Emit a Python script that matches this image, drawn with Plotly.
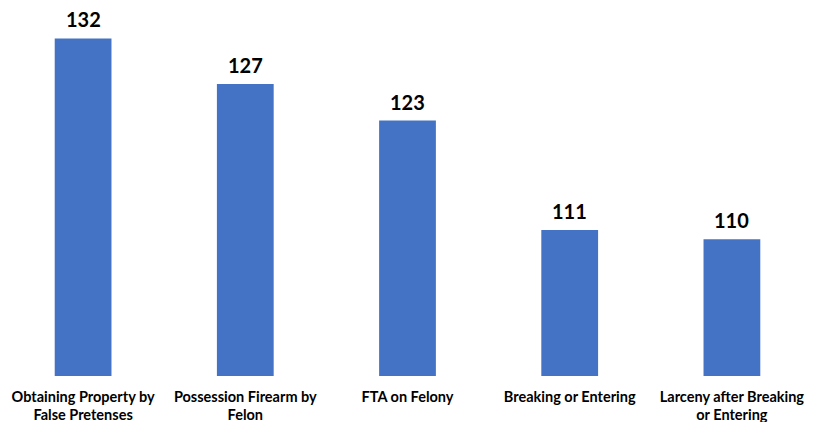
import plotly.graph_objects as go

categories = [
    "Obtaining Property by<br>False Pretenses",
    "Possession Firearm by<br>Felon",
    "FTA on Felony",
    "Breaking or Entering",
    "Larceny after Breaking<br>or Entering",
]
values = [132, 127, 123, 111, 110]

fig = go.Figure()
fig.add_trace(go.Bar(
    x=categories, y=values,
    marker=dict(color="#4472C4", line=dict(width=0)),
    width=0.35,
))
for c, v in zip(categories, values):
    fig.add_annotation(
        x=c, y=v, text=f"<b>{v}</b>", showarrow=False,
        yanchor="bottom", yshift=5,
        font=dict(family="Lato", size=20, color="#000000"),
    )

fig.update_layout(
    width=821, height=422,
    margin=dict(l=1.5, r=7.5, t=10.5, b=46),
    paper_bgcolor="white", plot_bgcolor="white",
    showlegend=False,
    bargap=0.65,
)
fig.update_xaxes(
    showgrid=False, showline=False, zeroline=False,
    tickfont=dict(family="Lato", size=14.5, color="#000000", weight="bold"),
    ticks="", tickangle=0, automargin=False, ticklabelstandoff=10,
)
fig.update_yaxes(
    range=[95, 135], visible=False, showgrid=False, zeroline=False,
)
fig.write_html("out.html", config={"displayModeBar": False},
               post_script="document.body.style.margin='0';")
